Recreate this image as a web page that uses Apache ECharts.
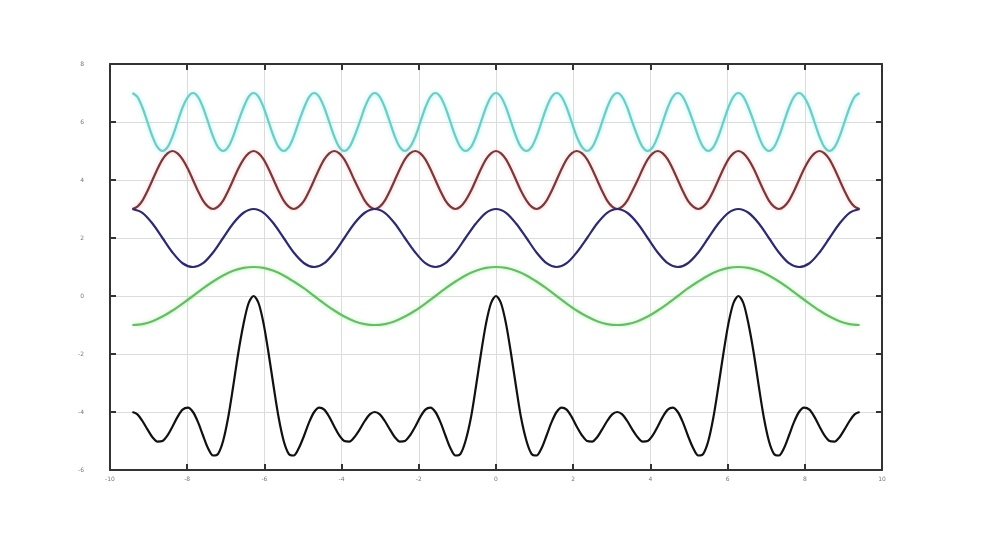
<!DOCTYPE html>
<html>
<head>
<meta charset="utf-8">
<script src="https://cdn.jsdelivr.net/npm/echarts@6/dist/echarts.min.js"></script>
<style>
  html, body { margin: 0; padding: 0; background: #fff; }
  #chart { width: 989px; height: 533px; }
</style>
</head>
<body>
<div id="chart"></div>
<script>
  // x samples, step pi/24 from -3pi to 3pi
  const xFine = [
    -9.42, -9.29, -9.16, -9.03, -8.90, -8.77, -8.64, -8.51, -8.38, -8.25, -8.12, -7.98,
    -7.85, -7.72, -7.59, -7.46, -7.33, -7.20, -7.07, -6.94, -6.81, -6.68, -6.54, -6.41,
    -6.28, -6.15, -6.02, -5.89, -5.76, -5.63, -5.50, -5.37, -5.24, -5.11, -4.97, -4.84,
    -4.71, -4.58, -4.45, -4.32, -4.19, -4.06, -3.93, -3.80, -3.67, -3.53, -3.40, -3.27,
    -3.14, -3.01, -2.88, -2.75, -2.62, -2.49, -2.36, -2.23, -2.09, -1.96, -1.83, -1.70,
    -1.57, -1.44, -1.31, -1.18, -1.05, -0.92, -0.79, -0.65, -0.52, -0.39, -0.26, -0.13,
    0,
    0.13, 0.26, 0.39, 0.52, 0.65, 0.79, 0.92, 1.05, 1.18, 1.31, 1.44, 1.57,
    1.70, 1.83, 1.96, 2.09, 2.23, 2.36, 2.49, 2.62, 2.75, 2.88, 3.01, 3.14,
    3.27, 3.40, 3.53, 3.67, 3.80, 3.93, 4.06, 4.19, 4.32, 4.45, 4.58, 4.71,
    4.84, 4.97, 5.11, 5.24, 5.37, 5.50, 5.63, 5.76, 5.89, 6.02, 6.15, 6.28,
    6.41, 6.54, 6.68, 6.81, 6.94, 7.07, 7.20, 7.33, 7.46, 7.59, 7.72, 7.85,
    7.98, 8.12, 8.25, 8.38, 8.51, 8.64, 8.77, 8.90, 9.03, 9.16, 9.29, 9.42
  ];
  // coarse samples (every other fine sample, step pi/12)
  const xCoarse = xFine.filter((_, i) => i % 2 === 0);

  // fine grid
  const cyanY = [
    7, 6.87, 6.5, 6, 5.5, 5.13, 5, 5.13, 5.5, 6, 6.5, 6.87,
    7, 6.87, 6.5, 6, 5.5, 5.13, 5, 5.13, 5.5, 6, 6.5, 6.87,
    7, 6.87, 6.5, 6, 5.5, 5.13, 5, 5.13, 5.5, 6, 6.5, 6.87,
    7, 6.87, 6.5, 6, 5.5, 5.13, 5, 5.13, 5.5, 6, 6.5, 6.87,
    7, 6.87, 6.5, 6, 5.5, 5.13, 5, 5.13, 5.5, 6, 6.5, 6.87,
    7, 6.87, 6.5, 6, 5.5, 5.13, 5, 5.13, 5.5, 6, 6.5, 6.87,
    7, 6.87, 6.5, 6, 5.5, 5.13, 5, 5.13, 5.5, 6, 6.5, 6.87,
    7, 6.87, 6.5, 6, 5.5, 5.13, 5, 5.13, 5.5, 6, 6.5, 6.87,
    7, 6.87, 6.5, 6, 5.5, 5.13, 5, 5.13, 5.5, 6, 6.5, 6.87,
    7, 6.87, 6.5, 6, 5.5, 5.13, 5, 5.13, 5.5, 6, 6.5, 6.87,
    7, 6.87, 6.5, 6, 5.5, 5.13, 5, 5.13, 5.5, 6, 6.5, 6.87,
    7, 6.87, 6.5, 6, 5.5, 5.13, 5, 5.13, 5.5, 6, 6.5, 6.87,
    7
  ];
  // fine grid
  const redY = [
    3, 3.08, 3.29, 3.62, 4, 4.38, 4.71, 4.92, 5, 4.92, 4.71, 4.38, 4, 3.62, 3.29, 3.08,
    3, 3.08, 3.29, 3.62, 4, 4.38, 4.71, 4.92, 5, 4.92, 4.71, 4.38, 4, 3.62, 3.29, 3.08,
    3, 3.08, 3.29, 3.62, 4, 4.38, 4.71, 4.92, 5, 4.92, 4.71, 4.38, 4, 3.62, 3.29, 3.08,
    3, 3.08, 3.29, 3.62, 4, 4.38, 4.71, 4.92, 5, 4.92, 4.71, 4.38, 4, 3.62, 3.29, 3.08,
    3, 3.08, 3.29, 3.62, 4, 4.38, 4.71, 4.92, 5, 4.92, 4.71, 4.38, 4, 3.62, 3.29, 3.08,
    3, 3.08, 3.29, 3.62, 4, 4.38, 4.71, 4.92, 5, 4.92, 4.71, 4.38, 4, 3.62, 3.29, 3.08,
    3, 3.08, 3.29, 3.62, 4, 4.38, 4.71, 4.92, 5, 4.92, 4.71, 4.38, 4, 3.62, 3.29, 3.08,
    3, 3.08, 3.29, 3.62, 4, 4.38, 4.71, 4.92, 5, 4.92, 4.71, 4.38, 4, 3.62, 3.29, 3.08,
    3, 3.08, 3.29, 3.62, 4, 4.38, 4.71, 4.92, 5, 4.92, 4.71, 4.38, 4, 3.62, 3.29, 3.08,
    3
  ];
  // coarse grid
  const blueY = [
    3, 2.87, 2.5, 2, 1.5, 1.13, 1, 1.13, 1.5, 2, 2.5, 2.87,
    3, 2.87, 2.5, 2, 1.5, 1.13, 1, 1.13, 1.5, 2, 2.5, 2.87,
    3, 2.87, 2.5, 2, 1.5, 1.13, 1, 1.13, 1.5, 2, 2.5, 2.87,
    3, 2.87, 2.5, 2, 1.5, 1.13, 1, 1.13, 1.5, 2, 2.5, 2.87,
    3, 2.87, 2.5, 2, 1.5, 1.13, 1, 1.13, 1.5, 2, 2.5, 2.87,
    3, 2.87, 2.5, 2, 1.5, 1.13, 1, 1.13, 1.5, 2, 2.5, 2.87,
    3
  ];
  // coarse grid
  const greenY = [
    -1, -0.97, -0.87, -0.71, -0.5, -0.26, 0, 0.26, 0.5, 0.71, 0.87, 0.97,
    1, 0.97, 0.87, 0.71, 0.5, 0.26, 0, -0.26, -0.5, -0.71, -0.87, -0.97,
    -1, -0.97, -0.87, -0.71, -0.5, -0.26, 0, 0.26, 0.5, 0.71, 0.87, 0.97,
    1, 0.97, 0.87, 0.71, 0.5, 0.26, 0, -0.26, -0.5, -0.71, -0.87, -0.97,
    -1, -0.97, -0.87, -0.71, -0.5, -0.26, 0, 0.26, 0.5, 0.71, 0.87, 0.97,
    1, 0.97, 0.87, 0.71, 0.5, 0.26, 0, -0.26, -0.5, -0.71, -0.87, -0.97,
    -1
  ];
  // fine grid
  const blackY = [
    -4, -4.08, -4.31, -4.6, -4.87, -5.02, -5, -4.81, -4.5, -4.17, -3.92, -3.85,
    -4, -4.35, -4.81, -5.25, -5.5, -5.44, -5, -4.2, -3.13, -1.99, -0.96, -0.25,
    0, -0.25, -0.96, -1.99, -3.13, -4.2, -5, -5.44, -5.5, -5.25, -4.81, -4.35,
    -4, -3.85, -3.92, -4.17, -4.5, -4.81, -5, -5.02, -4.87, -4.6, -4.31, -4.08,
    -4, -4.08, -4.31, -4.6, -4.87, -5.02, -5, -4.81, -4.5, -4.17, -3.92, -3.85,
    -4, -4.35, -4.81, -5.25, -5.5, -5.44, -5, -4.2, -3.13, -1.99, -0.96, -0.25,
    0,
    -0.25, -0.96, -1.99, -3.13, -4.2, -5, -5.44, -5.5, -5.25, -4.81, -4.35, -4,
    -3.85, -3.92, -4.17, -4.5, -4.81, -5, -5.02, -4.87, -4.6, -4.31, -4.08, -4,
    -4.08, -4.31, -4.6, -4.87, -5.02, -5, -4.81, -4.5, -4.17, -3.92, -3.85, -4,
    -4.35, -4.81, -5.25, -5.5, -5.44, -5, -4.2, -3.13, -1.99, -0.96, -0.25, 0,
    -0.25, -0.96, -1.99, -3.13, -4.2, -5, -5.44, -5.5, -5.25, -4.81, -4.35, -4,
    -3.85, -3.92, -4.17, -4.5, -4.81, -5, -5.02, -4.87, -4.6, -4.31, -4.08, -4
  ];

  const zip = (xs, ys) => xs.map((x, i) => [x, ys[i]]);

  const tickStyle = { color: '#333', width: 2 };
  const gridLine = { show: true, lineStyle: { color: '#dcdcdc', type: 'solid', width: 1 } };
  const label = { fontSize: 6, color: '#777', fontFamily: 'DejaVu Sans' };

  function line(name, xs, ys, color, glow) {
    return {
      name: name,
      type: 'line',
      data: zip(xs, ys),
      smooth: 0.3,
      showSymbol: false,
      lineStyle: {
        color: color,
        width: 2.2,
        shadowColor: glow || 'transparent',
        shadowBlur: glow ? 4 : 0
      }
    };
  }

  const chart = echarts.init(document.getElementById('chart'));
  chart.setOption({
    animation: false,
    backgroundColor: '#fff',
    grid: { left: 110, right: 107, top: 64, bottom: 63 },
    xAxis: [
      {
        type: 'value', min: -10, max: 10, interval: 2, position: 'bottom',
        axisLine: { show: true, onZero: false, lineStyle: tickStyle },
        axisTick: { show: true, inside: true, length: 6, lineStyle: tickStyle },
        axisLabel: Object.assign({ margin: 6 }, label),
        splitLine: gridLine
      },
      {
        type: 'value', min: -10, max: 10, interval: 2, position: 'top',
        axisLine: { show: true, onZero: false, lineStyle: tickStyle },
        axisTick: { show: true, inside: true, length: 6, lineStyle: tickStyle },
        axisLabel: { show: false },
        splitLine: { show: false }
      }
    ],
    yAxis: [
      {
        type: 'value', min: -6, max: 8, interval: 2, position: 'left',
        axisLine: { show: true, onZero: false, lineStyle: tickStyle },
        axisTick: { show: true, inside: true, length: 6, lineStyle: tickStyle },
        axisLabel: Object.assign({ margin: 26 }, label),
        splitLine: gridLine
      },
      {
        type: 'value', min: -6, max: 8, interval: 2, position: 'right',
        axisLine: { show: true, onZero: false, lineStyle: tickStyle },
        axisTick: { show: true, inside: true, length: 6, lineStyle: tickStyle },
        axisLabel: { show: false },
        splitLine: { show: false }
      }
    ],
    series: [
      line('cos(4x)+6', xFine, cyanY, '#6ccdc6', 'rgba(140,240,232,0.8)'),
      line('cos(3x)+4', xFine, redY, '#7e3638', 'rgba(240,170,170,0.6)'),
      line('cos(2x)+2', xCoarse, blueY, '#2c2a72', null),
      line('cos(x)', xCoarse, greenY, '#63bf63', 'rgba(170,240,160,0.8)'),
      line('sum-4', xFine, blackY, '#111111', null)
    ]
  });
</script>
</body>
</html>
